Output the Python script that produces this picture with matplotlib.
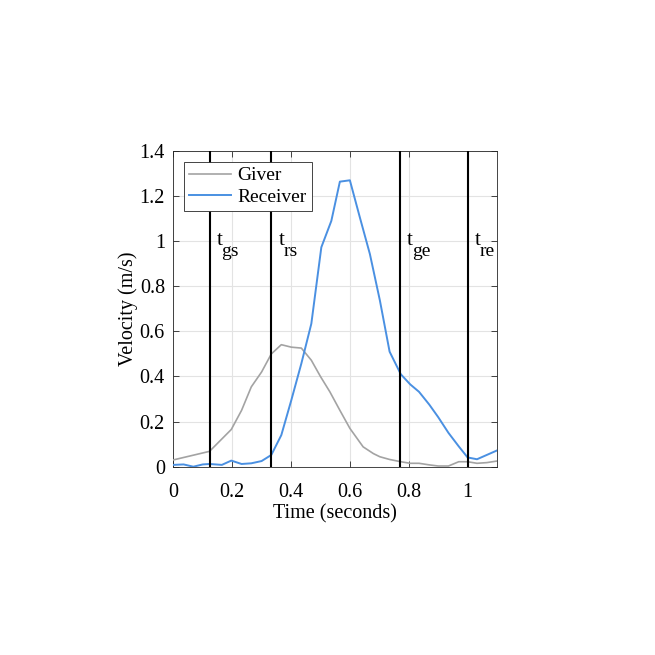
import matplotlib
matplotlib.use("Agg")
import matplotlib.pyplot as plt
from matplotlib.transforms import offset_copy

plt.rcParams['font.family'] = ['Liberation Serif', 'DejaVu Serif']

giver_t = [0.0, 0.123, 0.197, 0.232, 0.265, 0.30, 0.333, 0.367, 0.401, 0.435, 0.469,
           0.50, 0.532, 0.566, 0.60, 0.645, 0.68, 0.702, 0.735, 0.773, 0.805, 0.835,
           0.87, 0.90, 0.935, 0.97, 1.0, 1.032, 1.065, 1.1]
giver_v = [0.03, 0.068, 0.165, 0.25, 0.354, 0.42, 0.50, 0.541, 0.530, 0.526, 0.472,
           0.40, 0.332, 0.25, 0.17, 0.088, 0.058, 0.044, 0.032, 0.022, 0.015, 0.015,
           0.008, 0.003, 0.003, 0.022, 0.022, 0.015, 0.018, 0.025]

recv_t = [0.0, 0.035, 0.068, 0.10, 0.123, 0.165, 0.197, 0.232, 0.265, 0.30, 0.333,
          0.367, 0.401, 0.435, 0.469, 0.503, 0.537, 0.566, 0.60, 0.634, 0.668, 0.702,
          0.735, 0.773, 0.805, 0.835, 0.87, 0.90, 0.935, 0.97, 1.0, 1.032, 1.1]
recv_v = [0.008, 0.01, 0.0, 0.01, 0.012, 0.008, 0.027, 0.012, 0.015, 0.025, 0.052,
          0.14, 0.295, 0.457, 0.634, 0.973, 1.09, 1.264, 1.27, 1.105, 0.943, 0.737,
          0.51, 0.41, 0.365, 0.332, 0.275, 0.22, 0.15, 0.09, 0.041, 0.033, 0.072]

event_t = [0.123, 0.333, 0.770, 1.0]
event_subs = ['gs', 'rs', 'ge', 're']

xticks = [0, 0.2, 0.4, 0.6, 0.8, 1]
xticklabels = ['0', '0.2', '0.4', '0.6', '0.8', '1']
yticks = [0, 0.2, 0.4, 0.6, 0.8, 1, 1.2, 1.4]
yticklabels = ['0', '0.2', '0.4', '0.6', '0.8', '1', '1.2', '1.4']

fig = plt.figure(figsize=(6.55, 6.55), dpi=100)
ax = fig.add_axes([0.2646, 0.2875, 0.4942, 0.482])

ax.grid(True, color='#e3e3e3', linewidth=0.8)
ax.set_axisbelow(True)

ax.plot(giver_t, giver_v, color='#a3a3a3', linewidth=1.2, label='Giver', zorder=3)
ax.plot(recv_t, recv_v, color='#4a90e2', linewidth=1.4, label='Receiver', zorder=3)

PX = 0.72  # points per pixel at 100 dpi
for t, sub in zip(event_t, event_subs):
    ax.axvline(t, color='black', linewidth=1.5, zorder=4)
    tr_t = offset_copy(ax.transData, fig=fig, x=7.0 * PX, y=0, units='points')
    ax.text(t, 0.983, 't', fontsize=15, va='baseline', ha='left', transform=tr_t, zorder=5)
    tr_s = offset_copy(ax.transData, fig=fig, x=12.0 * PX, y=-10.7 * PX, units='points')
    ax.text(t, 0.983, sub, fontsize=14, va='baseline', ha='left', transform=tr_s, zorder=5)

ax.set_xlim(0, 1.1)
ax.set_ylim(0, 1.4)
ax.set_xticks(xticks)
ax.set_xticklabels(xticklabels)
ax.set_yticks(yticks)
ax.set_yticklabels(yticklabels)
ax.tick_params(direction='in', length=4, width=0.6, top=True, right=True,
               labelsize=14.5, colors='#262626', labelcolor='black')
ax.tick_params(axis='x', pad=11.5)
ax.tick_params(axis='y', pad=6)
for s in ax.spines.values():
    s.set_color('#262626')
    s.set_linewidth(0.6)

ax.set_xlabel('Time (seconds)', fontsize=14.5, labelpad=2)
ax.set_ylabel('Velocity (m/s)', fontsize=14.5, labelpad=0.8)

leg = ax.legend(loc='upper left', bbox_to_anchor=(0.033, 0.965), fontsize=14,
                frameon=True, fancybox=False, edgecolor='#262626', framealpha=1,
                borderpad=0.25, handlelength=2.15, labelspacing=0.2, handletextpad=0.35,
                borderaxespad=0)
leg.get_frame().set_linewidth(0.6)
leg.set_zorder(6)

fig.savefig('out.png', dpi=100)
